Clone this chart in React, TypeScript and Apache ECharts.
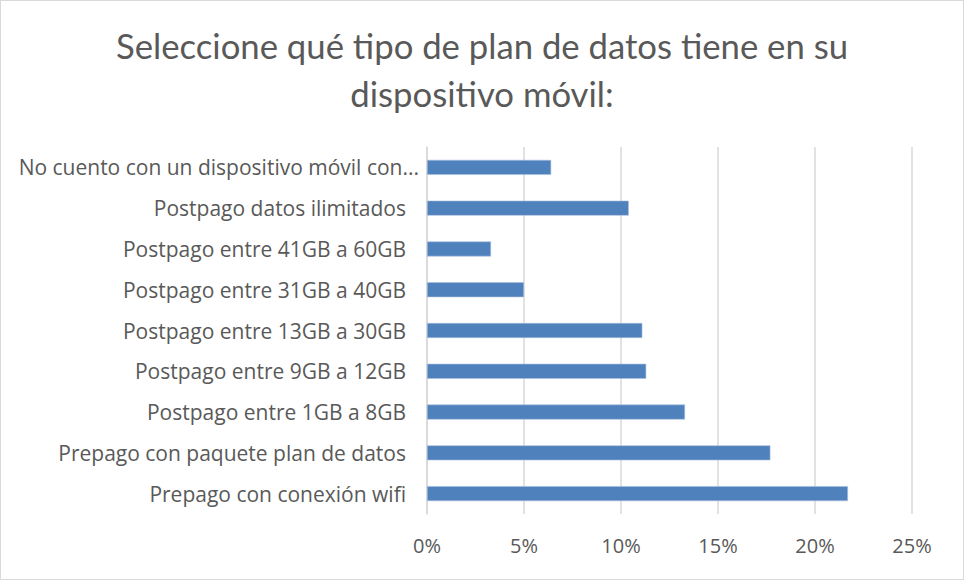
import React, { useEffect, useRef } from "react";
import * as echarts from "echarts";

const TITLE = "Seleccione qué tipo de plan de datos tiene en su\ndispositivo móvil:";
const categories = [
  "No cuento con un dispositivo móvil con...",
  "Postpago datos ilimitados",
  "Postpago entre 41GB a 60GB",
  "Postpago entre 31GB a 40GB",
  "Postpago entre 13GB a 30GB",
  "Postpago entre 9GB a 12GB",
  "Postpago entre 1GB a 8GB",
  "Prepago con paquete plan de datos",
  "Prepago con conexión wifi",
];
const values = [6.4, 10.4, 3.3, 5.0, 11.1, 11.3, 13.3, 17.7, 21.7];
const xMin = 0;
const xMax = 25;
const xStep = 5;

const TFONT = "Lato, 'Open Sans', sans-serif";
const FONT = "'Open Sans', Lato, sans-serif";
const GREY = "#595959";
const LFS = 21;

export default function App() {
  const ref = useRef<HTMLDivElement>(null);
  useEffect(() => {
    document.body.style.margin = "0";
    if (!ref.current) return;
    const chart = echarts.init(ref.current, undefined, { renderer: "svg" });
    chart.setOption({
      animation: false,
      backgroundColor: "#ffffff",
      title: {
        text: TITLE,
        left: "center",
        top: 15,
        textStyle: {
          fontFamily: TFONT,
          fontSize: 34.7,
          fontWeight: "normal",
          color: GREY,
          lineHeight: 48,
        },
      },
      grid: { left: 426, right: 51, top: 146, bottom: 65, containLabel: false },
      xAxis: {
        type: "value",
        min: xMin,
        max: xMax,
        interval: xStep,
        axisLine: { show: false },
        axisTick: { show: false },
        axisLabel: {
          formatter: "{value}%",
          fontFamily: FONT,
          fontSize: 20,
          color: GREY,
          margin: 21,
        },
        splitLine: { lineStyle: { color: "#d9d9d9", width: 1.5 } },
      },
      yAxis: {
        type: "category",
        data: categories,
        inverse: true,
        axisTick: { show: false },
        axisLine: { show: true, lineStyle: { color: "#d9d9d9", width: 1.5 } },
        axisLabel: {
          fontFamily: FONT,
          fontSize: LFS,
          color: GREY,
          margin: 8,
          formatter: (v: string, i: number) => (i === 0 ? `{b|${v}}` : `{a|${v}}`),
          rich: {
            a: { fontFamily: FONT, fontSize: LFS, color: GREY, padding: [0, 13, 0, 0] },
            b: { fontFamily: FONT, fontSize: LFS, color: GREY },
          },
        },
      },
      series: [
        {
          type: "bar",
          data: values,
          barWidth: 15,
          itemStyle: { color: "#4f81bd", borderColor: "#a9c0de", borderWidth: 0.6 },
        },
      ],
    });
    return () => chart.dispose();
  }, []);
  return (
    <div
      ref={ref}
      style={{
        width: 962,
        height: 578,
        border: "1px solid #d9d9d9",
        background: "#fff",
      }}
    />
  );
}
